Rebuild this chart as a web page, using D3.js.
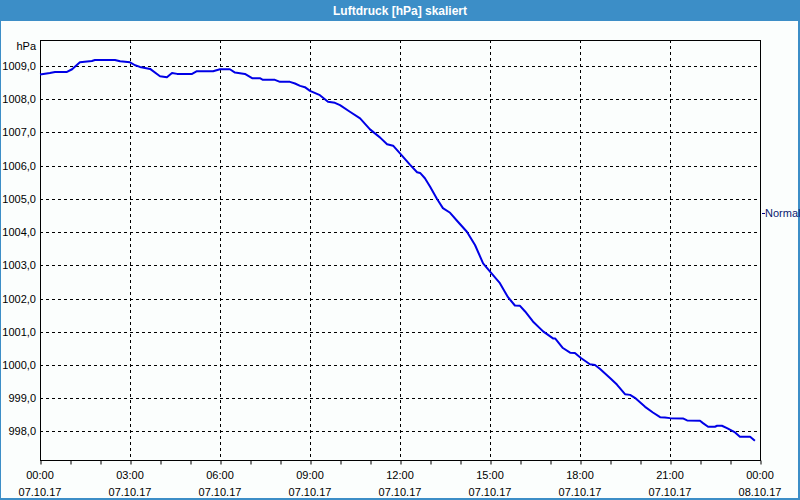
<!DOCTYPE html>
<html>
<head>
<meta charset="utf-8">
<script src="https://cdn.jsdelivr.net/npm/d3@7"></script>
<style>
  html, body { margin: 0; padding: 0; background: #fff; }
  svg { display: block; }
</style>
</head>
<body>
<svg id="chart" width="800" height="500"></svg>
<script>
// ---- data ----
const title = "Luftdruck [hPa] skaliert";
const unitLabel = "hPa";
const seriesName = "Normal";
const hours = [0,0.33,0.5,0.9,1.07,1.33,1.73,1.83,2.5,2.67,3.0,3.17,3.33,3.67,4.0,4.23,4.4,4.57,5.07,5.23,5.77,6.0,6.33,6.5,6.83,7.07,7.33,7.43,7.83,8.0,8.33,8.5,8.67,8.83,9.0,9.33,9.6,9.83,10.0,10.33,10.67,11.0,11.33,11.57,11.77,12.0,12.33,12.57,12.67,12.83,13.0,13.23,13.43,13.67,13.93,14.23,14.5,14.77,15.03,15.33,15.6,15.83,16.0,16.17,16.43,16.77,17.1,17.17,17.43,17.67,17.83,18.03,18.33,18.5,18.67,19.0,19.23,19.5,19.67,19.83,20.17,20.43,20.67,20.83,21.0,21.43,21.57,22.0,22.1,22.27,22.5,22.57,22.73,22.9,23.17,23.33,23.67,23.83];
const pressure = [1008.74,1008.79,1008.82,1008.82,1008.90,1009.11,1009.15,1009.18,1009.18,1009.14,1009.11,1009.02,1008.97,1008.91,1008.69,1008.66,1008.79,1008.76,1008.76,1008.84,1008.84,1008.90,1008.90,1008.80,1008.76,1008.63,1008.63,1008.58,1008.58,1008.52,1008.52,1008.47,1008.40,1008.36,1008.25,1008.12,1007.92,1007.89,1007.82,1007.62,1007.42,1007.09,1006.85,1006.64,1006.60,1006.37,1006.03,1005.80,1005.78,1005.62,1005.37,1005.00,1004.72,1004.58,1004.31,1004.01,1003.61,1003.06,1002.78,1002.46,1002.04,1001.79,1001.78,1001.61,1001.31,1001.01,1000.80,1000.80,1000.51,1000.37,1000.36,1000.21,1000.02,1000.00,999.88,999.61,999.41,999.12,999.10,999.01,998.74,998.57,998.43,998.42,998.40,998.39,998.33,998.32,998.25,998.14,998.14,998.17,998.17,998.10,997.97,997.84,997.84,997.72];
const xTickHours = [0,3,6,9,12,15,18,21,24];
const xTickTimes = ["00:00","03:00","06:00","09:00","12:00","15:00","18:00","21:00","00:00"];
const xTickDates = ["07.10.17","07.10.17","07.10.17","07.10.17","07.10.17","07.10.17","07.10.17","07.10.17","08.10.17"];
const yTicks = [998,999,1000,1001,1002,1003,1004,1005,1006,1007,1008,1009];
const yDomain = [997.14, 1009.78];

// ---- layout ----
const W = 800, H = 500;
const plot = {left: 40, top: 40, right: 760, bottom: 460};
const font = "'Liberation Sans', Arial, sans-serif";
const svg = d3.select("#chart");

// window background + border
svg.append("rect").attr("x",0).attr("y",0).attr("width",W).attr("height",H).attr("fill","#3c8ec7");
svg.append("rect").attr("x",1).attr("y",21).attr("width",W-3).attr("height",H-23).attr("fill","#fbfefd");
svg.append("text").attr("x",W/2).attr("y",15).attr("text-anchor","middle")
  .attr("font-family",font).attr("font-weight","bold").attr("font-size",12).attr("fill","#fff").text(title);

const x = d3.scaleLinear().domain([0,24]).range([plot.left, plot.right]);
const y = d3.scaleLinear().domain(yDomain).range([plot.bottom, plot.top]);

// grid
const g = svg.append("g");
g.selectAll("line.hg").data(yTicks).join("line")
  .attr("x1",plot.left).attr("x2",plot.right)
  .attr("y1",d=>Math.round(y(d))+0.5).attr("y2",d=>Math.round(y(d))+0.5)
  .attr("stroke","#000").attr("stroke-dasharray","3,3").attr("stroke-width",1);
g.selectAll("line.vg").data(xTickHours.filter(h=>h>0&&h<24)).join("line")
  .attr("y1",plot.top).attr("y2",plot.bottom)
  .attr("x1",d=>Math.round(x(d))+0.5).attr("x2",d=>Math.round(x(d))+0.5)
  .attr("stroke","#000").attr("stroke-dasharray","3,3").attr("stroke-width",1);

// frame
svg.append("rect").attr("x",plot.left+0.5).attr("y",plot.top+0.5)
  .attr("width",plot.right-plot.left).attr("height",plot.bottom-plot.top)
  .attr("fill","none").attr("stroke","#000").attr("stroke-width",1);

// x axis hourly ticks
const xAxis = d3.axisBottom(x).tickValues(d3.range(0,25,1)).tickSize(4).tickFormat("");
const xa = svg.append("g").attr("transform",`translate(0.5,${plot.bottom+0.5})`).call(xAxis);
xa.select(".domain").remove();
xa.selectAll("line").attr("stroke","#000");

// x labels (two lines)
const xl = svg.append("g").selectAll("text").data(xTickHours).join("text")
  .attr("x",d=>x(d)).attr("text-anchor","middle")
  .attr("font-family",font).attr("font-size",11).attr("fill","#000");
xl.append("tspan").attr("x",d=>x(d)).attr("y",479).text((d,i)=>xTickTimes[i]);
xl.append("tspan").attr("x",d=>x(d)).attr("y",496).text((d,i)=>xTickDates[i]);

// y labels
const yFmt = d => d.toFixed(1).replace(".", ",");
svg.append("g").selectAll("text").data(yTicks).join("text")
  .attr("x",36).attr("y",d=>y(d)+4).attr("text-anchor","end")
  .attr("font-family",font).attr("font-size",11).attr("fill","#000").text(yFmt);
svg.append("text").attr("x",36).attr("y",50).attr("text-anchor","end")
  .attr("font-family",font).attr("font-size",11).attr("fill","#000").text(unitLabel);

// line
const data = hours.map((h,i)=>({h, v: pressure[i]}));
svg.append("path").datum(data)
  .attr("d", d3.line().x(d=>x(d.h)).y(d=>y(d.v)))
  .attr("fill","none").attr("stroke","#0000e6").attr("stroke-width",2).attr("stroke-linejoin","round");

// legend
svg.append("line").attr("x1",plot.right+2).attr("x2",plot.right+5).attr("y1",213.5).attr("y2",213.5)
  .attr("stroke","#000080");
svg.append("text").attr("x",plot.right+5).attr("y",217).attr("font-family",font).attr("font-size",11)
  .attr("fill","#0a1a70").text(seriesName);
</script>
</body>
</html>
